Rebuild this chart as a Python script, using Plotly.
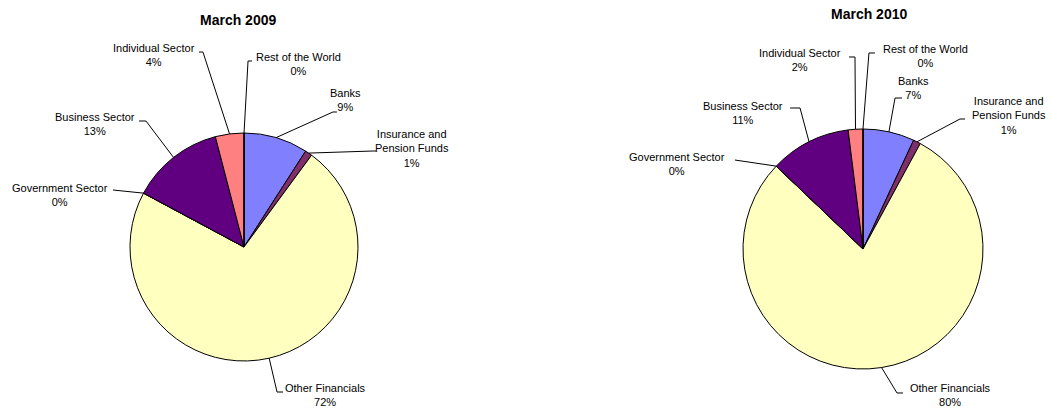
import math
import plotly.graph_objects as go

# Holders of the instrument, clockwise from 12 o'clock
sectors = ["Banks", "Insurance and\nPension Funds", "Other Financials", "Government Sector",
           "Business Sector", "Individual Sector", "Rest of the World"]
share_2009 = [9, 1, 72, 0, 13, 4, 0]
share_2010 = [7, 1, 80, 0, 11, 2, 0]
titles = ["March 2009", "March 2010"]

colors = ["#8080FF", "#802F6A", "#FFFFC0", "#CCFFFF", "#600080", "#FF8080", "#0066CC"]

W, H = 1051, 408
FONT = "Liberation Sans, Arial, sans-serif"


def px(x, y):
    return x / W, 1 - y / H


# pie geometry (pixels): centre x, centre y, radius
pies = [
    dict(cx=244, cy=247, r=114, values=share_2009, title=titles[0], title_xy=(238, 20),
         label_xy=[(345, 100), (412, 148), (325, 395), (60, 195), (95, 123.5), (154, 55), (298, 64)],
         bends=[[(333, 112), (337, 112)], [(373, 151), (376, 151)], [(277, 392), (283, 392)],
                [(113, 190)], [(146, 121), (139, 121)], [(203, 52), (199, 52)], [(248, 61), (252, 61)]]),
    dict(cx=863, cy=249, r=120, values=share_2010, title=titles[1], title_xy=(869, 14),
         label_xy=[(913, 87.5), (1009, 115.5), (950, 395), (677, 163.5), (743, 112.5), (800, 60), (925, 56)],
         bends=[[(895, 98), (902, 98)], [(960, 119), (965, 119)], [(897, 393), (903, 393)],
                [(735, 160)], [(800, 108), (790, 108)], [(855, 57), (849, 57)], [(869, 53), (875, 53)]]),
]

fig = go.Figure()
annotations = []
shapes = []

for p in pies:
    cx, cy, r = p["cx"], p["cy"], p["r"]
    x0, y1 = px(cx - r, cy - r)
    x1, y0 = px(cx + r, cy + r)
    fig.add_trace(go.Pie(
        labels=[s.replace("\n", " ") for s in sectors],
        values=p["values"],
        sort=False,
        direction="clockwise",
        rotation=0,
        textinfo="none",
        marker=dict(colors=colors, line=dict(color="#000000", width=1)),
        domain=dict(x=[x0, x1], y=[y0, y1]),
        showlegend=False,
    ))

    tx, ty = px(*p["title_xy"])
    annotations.append(dict(x=tx, y=ty, xref="paper", yref="paper", showarrow=False,
                            text="<b>%s</b>" % p["title"], xanchor="center", yanchor="middle",
                            font=dict(family=FONT, size=14, color="#000000")))

    total = sum(p["values"])
    cum = 0
    for i, (name, v) in enumerate(zip(sectors, p["values"])):
        mid = (cum + v / 2) / total * 2 * math.pi
        cum += v
        sx = cx + r * math.sin(mid)
        sy = cy - r * math.cos(mid)
        pts = [(sx, sy)] + p["bends"][i]
        path = "M " + " L ".join("%.4f,%.4f" % px(a, b) for a, b in pts)
        shapes.append(dict(type="path", path=path, xref="paper", yref="paper",
                           line=dict(color="#000000", width=1)))
        lx, ly = px(*p["label_xy"][i])
        annotations.append(dict(x=lx, y=ly, xref="paper", yref="paper", showarrow=False,
                                text=name.replace("\n", "<br>") + "<br>%d%%" % v,
                                align="center", xanchor="center", yanchor="middle",
                                font=dict(family=FONT, size=11, color="#000000")))

fig.update_layout(
    width=W, height=H,
    margin=dict(l=0, r=0, t=0, b=0),
    paper_bgcolor="#FFFFFF",
    plot_bgcolor="#FFFFFF",
    annotations=annotations,
    shapes=shapes,
)

fig.write_html("out.html")
